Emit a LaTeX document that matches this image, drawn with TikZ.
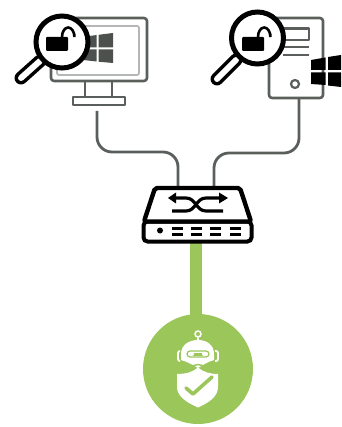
\documentclass[tikz,border=0pt]{standalone}
\definecolor{netgray}{HTML}{5A5F5C}
\definecolor{lightscreen}{HTML}{B4B7B5}
\definecolor{okgreen}{HTML}{9BC65A}
\tikzset{
  x=1pt,y=-1pt,
  devline/.style={draw=netgray,line width=2.6pt,line join=round},
  cable/.style={draw=netgray,line width=2.8pt,rounded corners=15pt},
  glass/.style={circle,draw=black,line width=5pt,fill=white,inner sep=0pt,minimum size=52pt},
  blackline/.style={draw=black,line width=4.4pt,line join=round,line cap=round},
  swicon/.style={draw=black,line width=3.2pt,line cap=butt},
  portbar/.style={fill=black,draw=none},
}
\begin{document}
\begin{tikzpicture}
\useasboundingbox (0,0) rectangle (341,427);
% cables
\coordinate (monfoot) at (97,111);
\coordinate (towfoot) at (299,98);
\coordinate (leftbend) at (130,152);
\coordinate (rightbend) at (250,153);
\coordinate (swleft) at (178,187);
\coordinate (swright) at (214,187);
\draw[cable] (monfoot) |- (leftbend) -| (swleft);
\draw[cable] (towfoot) |- (rightbend) -| (swright);
% green link and circle
\node[circle,fill=okgreen,inner sep=0pt,minimum size=110pt] (botcircle) at (198,369) {};
\coordinate (swbottom) at (196,242);
\draw[okgreen,line width=12pt] (swbottom) -- (swbottom |- botcircle.north) -- ++(0,3);
% monitor
\node[devline,rectangle,rounded corners=3pt,inner sep=0pt,minimum width=96pt,minimum height=63pt] (monitor) at (99,49.5) {};
\node[draw=lightscreen,line width=1.8pt,rectangle,rounded corners=2pt,inner sep=0pt,minimum width=82pt,minimum height=49pt] (screen) at (98,50.5) {};
\fill[netgray!85!black] (83,37) -- (96.5,35) -- (96.5,47.5) -- (83,47.5) -- cycle;
\fill[netgray!85!black] (98.5,34.8) -- (113,33) -- (113,47.5) -- (98.5,47.5) -- cycle;
\fill[netgray!85!black] (83,49.5) -- (96.5,49.5) -- (96.5,61.5) -- (83,60) -- cycle;
\fill[netgray!85!black] (98.5,49.5) -- (113,49.5) -- (113,63) -- (98.5,61.7) -- cycle;
\draw[devline] (85,81) -- (85,97) (112,81) -- (112,97);
\node[devline,rectangle,inner sep=0pt,minimum width=52pt,minimum height=8pt] (monbase) at (99,101) {};
% monitor magnifier
\draw[line width=13pt,line cap=round] (40,61) -- (21,78);
\draw[white,line width=6pt,line cap=round] (40,61) -- (21,78);
\node[glass] (lensa) at (62,42) {};
\fill[black,rounded corners=1pt] (46,37) rectangle (68,51);
\draw[line width=2.6pt] (62,37) arc (180:360:6.2 and 9.5) -- (74.4,34);
% tower
\node[devline,rectangle,rounded corners=3pt,inner sep=0pt,minimum width=54pt,minimum height=80pt] (tower) at (296,58) {};
\draw[devline] (283,28.5) -- (309,28.5) -- (309,40) -- (283,40);
\draw[devline] (283,47) -- (309,47) (283,55) -- (309,55);
\node[circle,draw=netgray,line width=2.2pt,inner sep=0pt,minimum size=8pt] (powerbtn) at (295,84) {};
\fill[black] (311,60) -- (325.5,57.5) -- (325.5,70) -- (311,70) -- cycle;
\fill[black] (328,57) -- (341,55) -- (341,70) -- (328,70) -- cycle;
\fill[black] (311,72.5) -- (325.5,72.5) -- (325.5,85) -- (311,84) -- cycle;
\fill[black] (328,72.5) -- (341,72.5) -- (341,87) -- (328,85.5) -- cycle;
% tower magnifier
\draw[line width=13pt,line cap=round] (236,60) -- (217,79);
\draw[white,line width=6pt,line cap=round] (236,60) -- (217,79);
\node[glass] (lensb) at (257.5,38) {};
\fill[black,rounded corners=1pt] (242,37) rectangle (264,51);
\draw[line width=2.6pt] (258,37) arc (180:360:6.2 and 9.5) -- (270.4,34);
% switch
\node[draw=black,line width=4pt,fill=white,rectangle,rounded corners=4pt,inner sep=0pt,minimum width=108pt,minimum height=20pt] (swfront) at (197.5,231.5) {};
\draw[blackline,fill=white,rounded corners=2pt] (144,221.5) -- (155,188) -- (240,188) -- (251,221.5) -- cycle;
\draw[swicon] (172,198) -- (186,198) .. controls (196,198) and (196,211) .. (206,211) -- (223,211);
\draw[swicon] (172,211) -- (186,211) .. controls (196,211) and (196,198) .. (206,198) -- (219,198);
\fill[black] (168,198) -- (176,192.5) -- (176,203.5) -- cycle;
\fill[black] (228,198) -- (219,192.5) -- (219,203.5) -- cycle;
\node[circle,fill=black,inner sep=0pt,minimum size=6pt] (led) at (160,230.5) {};
\foreach \px in {172,190.5,210,229.5}{
  \fill[portbar] (\px,227) rectangle (\px+11,230);
  \fill[portbar] (\px,232.5) rectangle (\px+11,235.5);
}
% robot
\node[circle,draw=white,line width=1.5pt,inner sep=0pt,minimum size=6pt] (antenna) at (198,334) {};
\draw[white,line width=1.5pt] (antenna.south) -- (198,341);
\fill[white] (181,354) .. controls (181,345) and (189,340) .. (198,340) .. controls (207,340) and (214,345) .. (214,354) -- (214,360) .. controls (207,362) and (203,365) .. (198,368) .. controls (193,365) and (188,362) .. (181,360) -- cycle;
\draw[okgreen,line width=1.2pt,rounded corners=3pt,fill=white] (187,351) rectangle (209,357);
\draw[white,line width=1.8pt,rounded corners=2pt] (180,351) -- (178,351) -- (178,361) -- (180,361);
\draw[white,line width=1.8pt,rounded corners=2pt] (215,351) -- (218,351) -- (218,361) -- (215,361);
\fill[okgreen] (191,352.5) rectangle (205,355.5);
\fill[white] (192,354) circle (2pt) (204,354) circle (2pt);
\draw[okgreen,line width=1.4pt] (175,364) .. controls (186,367) and (193,366) .. (198,364.5) .. controls (203,366) and (210,367) .. (221,364);
\fill[white] (177,374) .. controls (186,374) and (193,372) .. (198,367.5) .. controls (203,372) and (210,374) .. (218,374) -- (218,387) .. controls (218,397) and (208,403) .. (198,407.5) .. controls (188,403) and (177,397) .. (177,387) -- cycle;
\draw[okgreen,line width=3.6pt,line cap=round,line join=round] (186,388) -- (193,394) -- (212,377);
\end{tikzpicture}
\end{document}
